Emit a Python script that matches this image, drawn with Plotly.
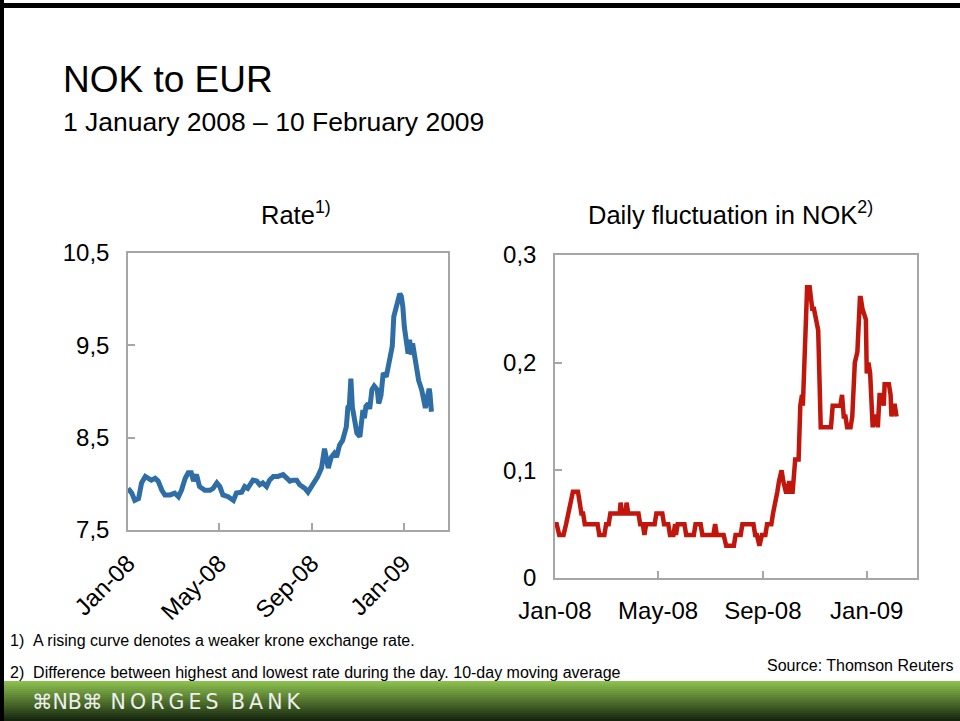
import plotly.graph_objects as go
import pandas as pd

W, H = 960, 721
FONT = "Liberation Sans, Arial, sans-serif"
NARROW = "Liberation Sans Narrow, Arial Narrow, Liberation Sans, sans-serif"

# ---- data (days after 1 Jan 2008) ----
rate_day = [0, 5, 9, 14, 18, 23, 27, 31, 36, 40,
            45, 49, 56, 62, 67, 71, 76, 80, 84, 87,
            91, 95, 102, 109, 113, 118, 122, 126, 133, 140,
            144, 151, 155, 159, 166, 171, 175, 179, 184, 188,
            193, 199, 206, 210, 215, 219, 224, 228, 232, 235,
            239, 244, 248, 252, 257, 261, 266, 270, 274, 277,
            281, 285, 290, 292, 294, 296, 298, 301, 304, 308,
            310, 312, 314, 316, 319, 321, 324, 327, 331, 333,
            336, 339, 343, 345, 348, 351, 353, 356, 359, 361,
            363, 365, 367, 370, 372, 374, 376, 378, 381, 384,
            386, 390, 393, 395, 397, 400, 401, 403]
rate_val = [7.95, 7.90, 7.82, 7.84, 8.01, 8.08, 8.06, 8.04, 8.06, 8.03,
            7.93, 7.88, 7.88, 7.90, 7.86, 7.93, 8.06, 8.12, 8.12, 8.03,
            8.10, 7.97, 7.93, 7.93, 7.95, 8.01, 7.97, 7.88, 7.86, 7.82,
            7.90, 7.91, 7.97, 7.95, 8.04, 8.03, 7.99, 8.01, 7.97, 8.04,
            8.08, 8.08, 8.10, 8.06, 8.03, 8.04, 8.04, 7.99, 7.97, 7.95,
            7.91, 7.97, 8.03, 8.08, 8.17, 8.38, 8.17, 8.29, 8.33, 8.29,
            8.42, 8.47, 8.62, 8.83, 8.85, 9.14, 8.83, 8.69, 8.55, 8.51,
            8.69, 8.80, 8.71, 8.84, 8.87, 8.81, 9.02, 9.06, 9.02, 8.87,
            8.96, 9.20, 9.16, 9.23, 9.38, 9.49, 9.81, 9.92, 9.99, 10.06,
            10.03, 9.92, 9.70, 9.56, 9.41, 9.56, 9.40, 9.52, 9.38, 9.23,
            9.12, 9.02, 8.91, 8.82, 8.91, 9.03, 8.98, 8.78]

fluct_day = [0, 2, 5, 10, 13, 16, 19, 21, 27, 29,
             31, 33, 35, 50, 52, 58, 60, 63, 65, 76,
             77, 79, 83, 84, 86, 98, 100, 103, 105, 107,
             117, 119, 126, 128, 133, 135, 139, 141, 142, 144,
             152, 154, 163, 165, 171, 173, 186, 188, 190, 198,
             201, 210, 212, 218, 220, 233, 235, 237, 240, 243,
             247, 249, 254, 256, 259, 261, 263, 265, 266, 268,
             271, 273, 275, 277, 279, 282, 286, 288, 290, 291,
             292, 296, 299, 302, 304, 306, 309, 312, 324, 326,
             335, 337, 339, 341, 343, 347, 349, 352, 355, 358,
             359, 361, 365, 366, 368, 370, 373, 375, 377, 379,
             381, 384, 386, 387, 392, 394, 395, 397, 399, 401]
fluct_val = [0.05, 0.05, 0.04, 0.04, 0.05, 0.06, 0.07, 0.08, 0.08, 0.07,
             0.06, 0.06, 0.05, 0.05, 0.04, 0.04, 0.05, 0.05, 0.06, 0.06,
             0.07, 0.06, 0.06, 0.07, 0.06, 0.06, 0.05, 0.05, 0.04, 0.05,
             0.05, 0.06, 0.06, 0.05, 0.05, 0.04, 0.04, 0.05, 0.04, 0.05,
             0.05, 0.04, 0.04, 0.05, 0.05, 0.04, 0.04, 0.05, 0.04, 0.04,
             0.03, 0.03, 0.04, 0.04, 0.05, 0.05, 0.04, 0.04, 0.03, 0.04,
             0.04, 0.05, 0.05, 0.06, 0.07, 0.08, 0.09, 0.10, 0.10, 0.09,
             0.08, 0.08, 0.09, 0.08, 0.08, 0.11, 0.11, 0.16, 0.17, 0.16,
             0.18, 0.27, 0.27, 0.25, 0.25, 0.24, 0.23, 0.14, 0.14, 0.16,
             0.16, 0.17, 0.15, 0.15, 0.14, 0.14, 0.15, 0.20, 0.21, 0.26,
             0.26, 0.25, 0.24, 0.19, 0.20, 0.19, 0.14, 0.15, 0.15, 0.14,
             0.17, 0.17, 0.16, 0.18, 0.18, 0.17, 0.15, 0.16, 0.16, 0.15]

tick_dates = ["2008-01-01", "2008-05-01", "2008-09-01", "2009-01-01"]
tick_labels = ["Jan-08", "May-08", "Sep-08", "Jan-09"]
rate_ticks = [7.5, 8.5, 9.5, 10.5]
rate_tick_labels = ["7,5", "8,5", "9,5", "10,5"]
fluct_ticks = [0, 0.1, 0.2, 0.3]
fluct_tick_labels = ["0", "0,1", "0,2", "0,3"]

start = pd.Timestamp("2008-01-01")
rate_dates = [start + pd.Timedelta(days=d) for d in rate_day]
fluct_dates = [start + pd.Timedelta(days=d) for d in fluct_day]
x_range = ["2008-01-01", "2009-03-01"]


def px(x):
    return x / W


def py(y):
    return 1 - y / H


fig = go.Figure()
fig.add_trace(go.Scatter(x=rate_dates, y=rate_val, mode="lines",
                         line=dict(color="#2e6da5", width=5),
                         xaxis="x", yaxis="y", showlegend=False))
fig.add_trace(go.Scatter(x=fluct_dates, y=fluct_val, mode="lines",
                         line=dict(color="#c0160c", width=4.5),
                         xaxis="x2", yaxis="y2", showlegend=False))

GRAY = "#a6a6a6"
common = dict(showline=True, mirror=True, linecolor=GRAY, linewidth=1.5,
              ticks="inside", ticklen=7, tickcolor=GRAY, tickwidth=1.5,
              showgrid=False, zeroline=False, fixedrange=True, automargin=False,
              tickfont=dict(family=FONT, size=24, color="black"))

fig.update_layout(
    width=W, height=H,
    margin=dict(l=0, r=0, t=0, b=0, pad=0, autoexpand=False),
    paper_bgcolor="white", plot_bgcolor="white",
    showlegend=False,
    xaxis=dict(common, type="date", range=x_range, domain=[px(128), px(448)],
               anchor="y", tickmode="array", tickvals=tick_dates,
               ticktext=tick_labels, tickangle=-45, ticklabelstandoff=8),
    yaxis=dict(common, range=[7.5, 10.5], domain=[py(530), py(253)],
               anchor="x", tickmode="array", tickvals=rate_ticks,
               ticktext=rate_tick_labels, ticklabelstandoff=12),
    xaxis2=dict(common, type="date", range=x_range, domain=[px(555), px(917)],
                anchor="y2", tickmode="array", tickvals=tick_dates,
                ticktext=tick_labels, tickangle=0, ticklabelstandoff=10),
    yaxis2=dict(common, range=[0, 0.3], domain=[py(578), py(255)],
                anchor="x2", tickmode="array", tickvals=fluct_ticks,
                ticktext=fluct_tick_labels, ticklabelstandoff=12),
)

ann = [
    dict(text="NOK to EUR", x=px(61), y=py(80), xanchor="left", yanchor="middle",
         font=dict(family=FONT, size=37, color="black")),
    dict(text="1 January 2008 \u2013 10 February 2009", x=px(61), y=py(122),
         xanchor="left", yanchor="middle", font=dict(family=FONT, size=26.5, color="black")),
    dict(text="Rate<sup>1)</sup>", x=px(296), y=py(213), xanchor="center", yanchor="middle",
         font=dict(family=FONT, size=25.5, color="black")),
    dict(text="Daily fluctuation in NOK<sup>2)</sup>", x=px(730), y=py(213),
         xanchor="center", yanchor="middle", font=dict(family=FONT, size=25.5, color="black")),
    dict(text="1)\u00a0\u00a0A rising curve denotes a weaker krone exchange rate.",
         x=px(8), y=py(640), xanchor="left", yanchor="middle",
         font=dict(family=NARROW, size=16, color="black")),
    dict(text="2)\u00a0\u00a0Difference between highest and lowest rate during the day. 10-day moving average",
         x=px(8), y=py(672), xanchor="left", yanchor="middle",
         font=dict(family=NARROW, size=16, color="black")),
    dict(text="Source: Thomson Reuters", x=px(955), y=py(665), xanchor="right",
         yanchor="middle", font=dict(family=NARROW, size=16, color="black")),
    dict(text="\u2318NB\u2318\u2009\u2009N\u2009O\u2009R\u2009G\u2009E\u2009S\u2009\u2009\u2009B\u2009A\u2009N\u2009K",
         x=px(30), y=py(702), xanchor="left", yanchor="middle",
         font=dict(family="DejaVu Sans, sans-serif", size=20.5, color="#eeeeee")),
]
for a in ann:
    a.update(xref="paper", yref="paper", showarrow=False)
fig.update_layout(annotations=ann)

shapes = []
# green gradient band at the bottom
top_c = (140, 192, 78)
bot_c = (22, 38, 14)
y_top, y_bot, n = 681, 721, 20
for i in range(n):
    t = i / (n - 1)
    c = tuple(int(top_c[k] + (bot_c[k] - top_c[k]) * t) for k in range(3))
    y0 = y_top + (y_bot - y_top) * i / n
    y1 = y_top + (y_bot - y_top) * (i + 1) / n
    shapes.append(dict(type="rect", xref="paper", yref="paper", x0=0, x1=1,
                       y0=py(y1) - 0.0005, y1=py(y0), line=dict(width=0),
                       fillcolor="rgb(%d,%d,%d)" % c, layer="below"))
# black frame on top and left
shapes.append(dict(type="rect", xref="paper", yref="paper", x0=0, x1=1,
                   y0=py(8), y1=py(3), line=dict(width=0), fillcolor="black"))
shapes.append(dict(type="rect", xref="paper", yref="paper", x0=0, x1=px(4),
                   y0=0, y1=1, line=dict(width=0), fillcolor="black"))
fig.update_layout(shapes=shapes)

fig.write_html(
    "out.html",
    config={"displayModeBar": False},
    post_script="document.body.style.margin='0';document.body.style.overflow='hidden';",
)
